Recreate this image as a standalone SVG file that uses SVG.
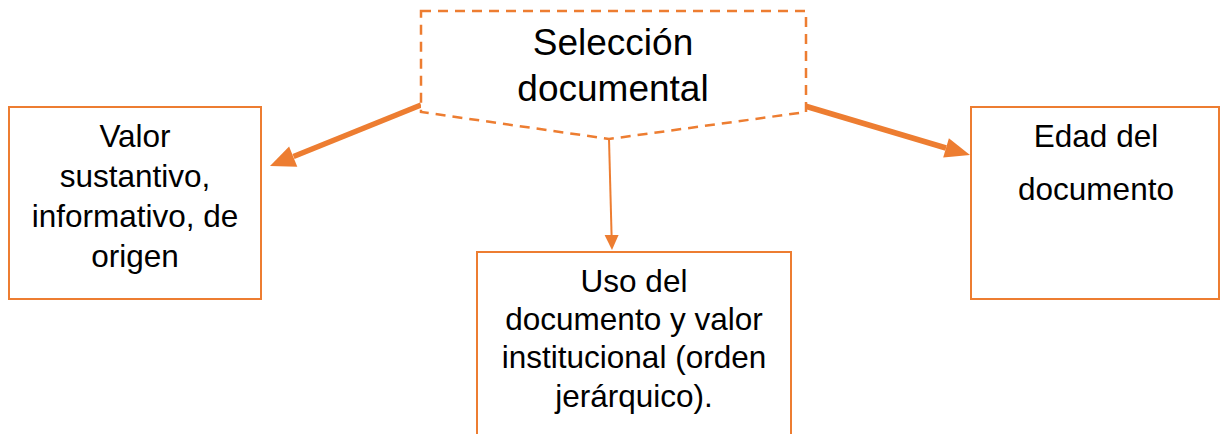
<svg xmlns="http://www.w3.org/2000/svg" width="1220" height="434" viewBox="0 0 1220 434">
<style>
.box{fill:#fff;stroke:#ED7D31;stroke-width:2}
.dash{fill:#fff;stroke:#ED7D31;stroke-width:2.5;stroke-dasharray:10 7}
.t{font-family:"Liberation Sans",Arial,sans-serif;fill:#000;text-anchor:middle}
.big{font-size:37px}
.lbl{font-size:31.5px}
.thick{stroke:#ED7D31;stroke-width:5.5;fill:none}
.thin{stroke:#ED7D31;stroke-width:2;fill:none}
.head{fill:#ED7D31}
</style>
<rect width="1220" height="434" fill="#fff"/>
<g id="connectors">
<line class="thick" x1="421" y1="105" x2="293.5" y2="156.5"/>
<polygon class="head" points="270,166 297.3,166.8 289.1,146.4"/>
<line class="thick" x1="805" y1="106" x2="946" y2="148"/>
<polygon class="head" points="970,155 943.2,157.5 948.9,138.3"/>
<line class="thin" x1="609" y1="139" x2="611.6" y2="236"/>
<polygon class="head" points="612,250 604.6,235 618.6,235"/>
</g>
<g id="node-seleccion">
<polygon class="dash" points="421,11 806,11 806,112 609,139 421,112"/>
<text class="t big" x="613" y="55">Selección</text>
<text class="t big" x="613" y="101">documental</text>
</g>
<g id="node-valor">
<rect class="box" x="9" y="107" width="252" height="192"/>
<text class="t lbl" x="135" y="147">Valor</text>
<text class="t lbl" x="135" y="187">sustantivo,</text>
<text class="t lbl" x="135" y="227">informativo, de</text>
<text class="t lbl" x="135" y="267">origen</text>
</g>
<g id="node-edad">
<rect class="box" x="971" y="107" width="248" height="192"/>
<text class="t lbl" x="1096" y="147">Edad del</text>
<text class="t lbl" x="1096" y="200">documento</text>
</g>
<g id="node-uso">
<rect class="box" x="477" y="252" width="314" height="200"/>
<text class="t lbl" x="634" y="292">Uso del</text>
<text class="t lbl" x="634" y="330">documento y valor</text>
<text class="t lbl" x="634" y="368">institucional (orden</text>
<text class="t lbl" x="634" y="407">jerárquico).</text>
</g>
</svg>
